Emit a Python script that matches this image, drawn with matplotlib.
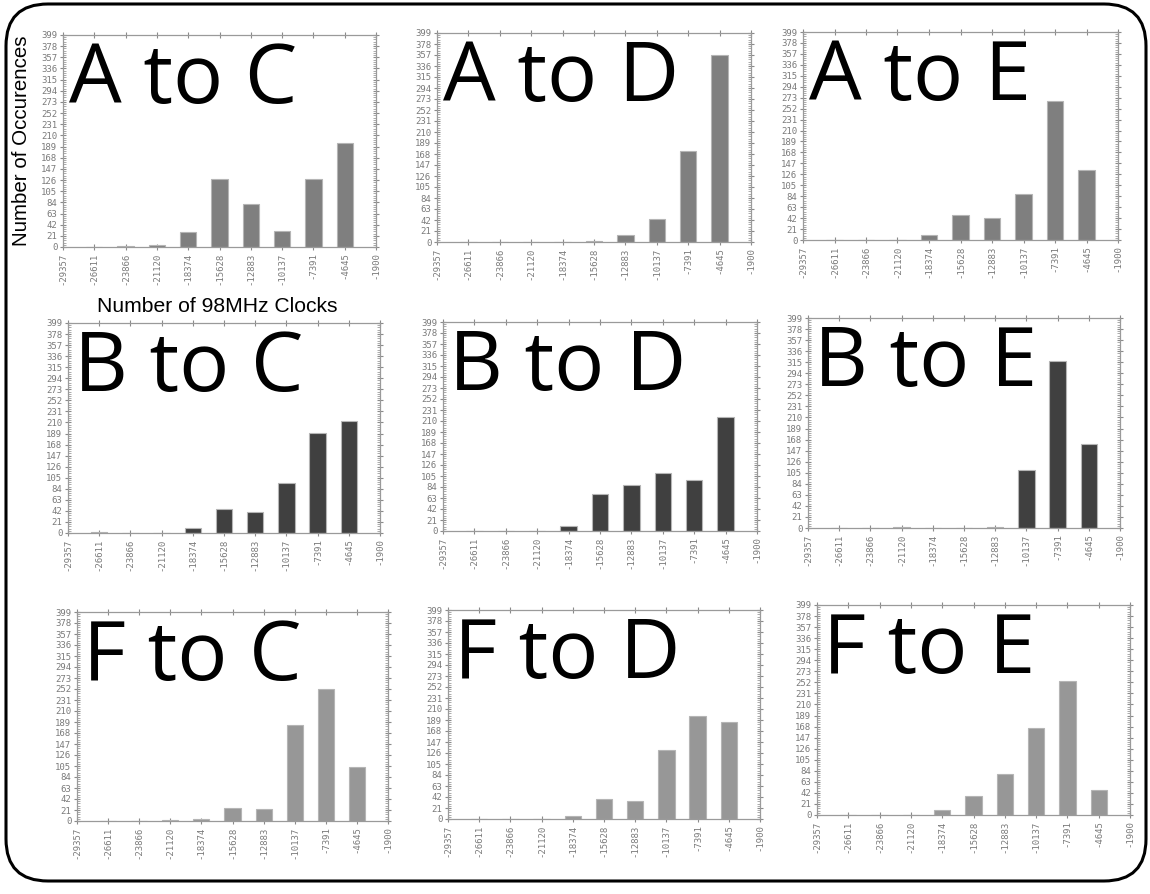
import numpy as np
import matplotlib
matplotlib.use("Agg")
import matplotlib.pyplot as plt
from matplotlib.patches import FancyBboxPatch
from matplotlib.ticker import FixedLocator, MultipleLocator

# ------------------------------------------------------------
# data
# ------------------------------------------------------------
EDGES = [-29357, -26611, -23866, -21120, -18374, -15628,
         -12883, -10137, -7391, -4645, -1900]
CENTERS = [-26611, -23866, -21120, -18374, -15628,
           -12883, -10137, -7391, -4645]
Y_TICKS = list(range(0, 400, 21))

titles = ["A to C", "A to D", "A to E",
          "B to C", "B to D", "B to E",
          "F to C", "F to D", "F to E"]

a_to_c = [0, 2, 3, 28, 128, 80, 30, 128, 195]
a_to_d = [0, 0, 0, 0, 1, 14, 44, 174, 357]
a_to_e = [0, 0, 0, 9, 48, 42, 89, 267, 134]
b_to_c = [1, 0, 0, 9, 45, 39, 95, 190, 212]
b_to_d = [0, 0, 0, 9, 71, 87, 111, 97, 218]
b_to_e = [0, 0, 2, 0, 0, 2, 111, 317, 160]
f_to_c = [0, 0, 1, 4, 25, 22, 184, 252, 103]
f_to_d = [0, 0, 0, 5, 39, 34, 131, 196, 186]
f_to_e = [0, 0, 0, 9, 36, 78, 166, 255, 48]

counts = [a_to_c, a_to_d, a_to_e,
          b_to_c, b_to_d, b_to_e,
          f_to_c, f_to_d, f_to_e]

ROW_COLORS = ["#7f7f7f", "#404040", "#979797"]

W, H = 1150, 894

# axes boxes in pixels: left, top, right, bottom
BOXES = [
    (63, 35, 376, 247), (437, 33, 751, 242), (803, 32, 1118, 240),
    (68, 323, 380, 533), (443, 322, 757, 531), (808, 318, 1120, 528),
    (77, 612, 388, 821), (448, 610, 760, 819), (817, 605, 1130, 815),
]

fig = plt.figure(figsize=(W / 100, H / 100), dpi=100)

# rounded frame around everything
bg = fig.add_axes([0, 0, 1, 1])
bg.set_xlim(0, W)
bg.set_ylim(H, 0)
bg.axis("off")
bg.add_patch(FancyBboxPatch((6, 4), 1140, 877,
                            boxstyle="round,pad=0,rounding_size=42",
                            fill=False, lw=2.2, ec="black"))

width = (EDGES[1] - EDGES[0]) * 0.52
tick_col = "#8a8a8a"

for i, (title, vals, box) in enumerate(zip(titles, counts, BOXES)):
    l, t, r, b = box
    ax = fig.add_axes([l / W, 1 - b / H, (r - l) / W, (b - t) / H])
    ax.bar(CENTERS, vals, width=width, color=ROW_COLORS[i // 3],
           edgecolor="#b5b5b5", linewidth=0.8, zorder=2)
    ax.set_xlim(EDGES[0], EDGES[-1])
    ax.set_ylim(0, 399)
    ax.xaxis.set_major_locator(FixedLocator(EDGES))
    ax.set_xticklabels([str(e) for e in EDGES], rotation=90)
    ax.yaxis.set_major_locator(FixedLocator(Y_TICKS))
    ax.yaxis.set_minor_locator(MultipleLocator(4.2))
    ax.tick_params(axis="both", which="major", direction="inout",
                   length=5, width=0.8, color=tick_col, labelcolor="#7a7a7a",
                   labelsize=6.5, top=True, right=True, pad=1.5)
    ax.tick_params(axis="y", which="minor", direction="in", length=2,
                   width=0.5, color=tick_col, left=True, right=True)
    for lab in ax.get_xticklabels() + ax.get_yticklabels():
        lab.set_family("DejaVu Sans Mono")
    for s in ax.spines.values():
        s.set_color("#9a9a9a")
        s.set_linewidth(0.9)
    ax.text(0.02, 0.975, title, transform=ax.transAxes, ha="left", va="top",
            fontsize=60, family="Open Sans", fontweight="medium",
            color="black", zorder=5)

# shared axis titles
fig.text(27 / W, 1 - 141 / H, "Number of Occurences", rotation=90,
         ha="center", va="baseline", rotation_mode="anchor",
         fontsize=14.8, family="Liberation Sans")
fig.text(217 / W, 1 - 312 / H, "Number of 98MHz Clocks",
         ha="center", va="baseline", fontsize=15.2, family="Liberation Sans")

fig.savefig("out.png", dpi=100)
